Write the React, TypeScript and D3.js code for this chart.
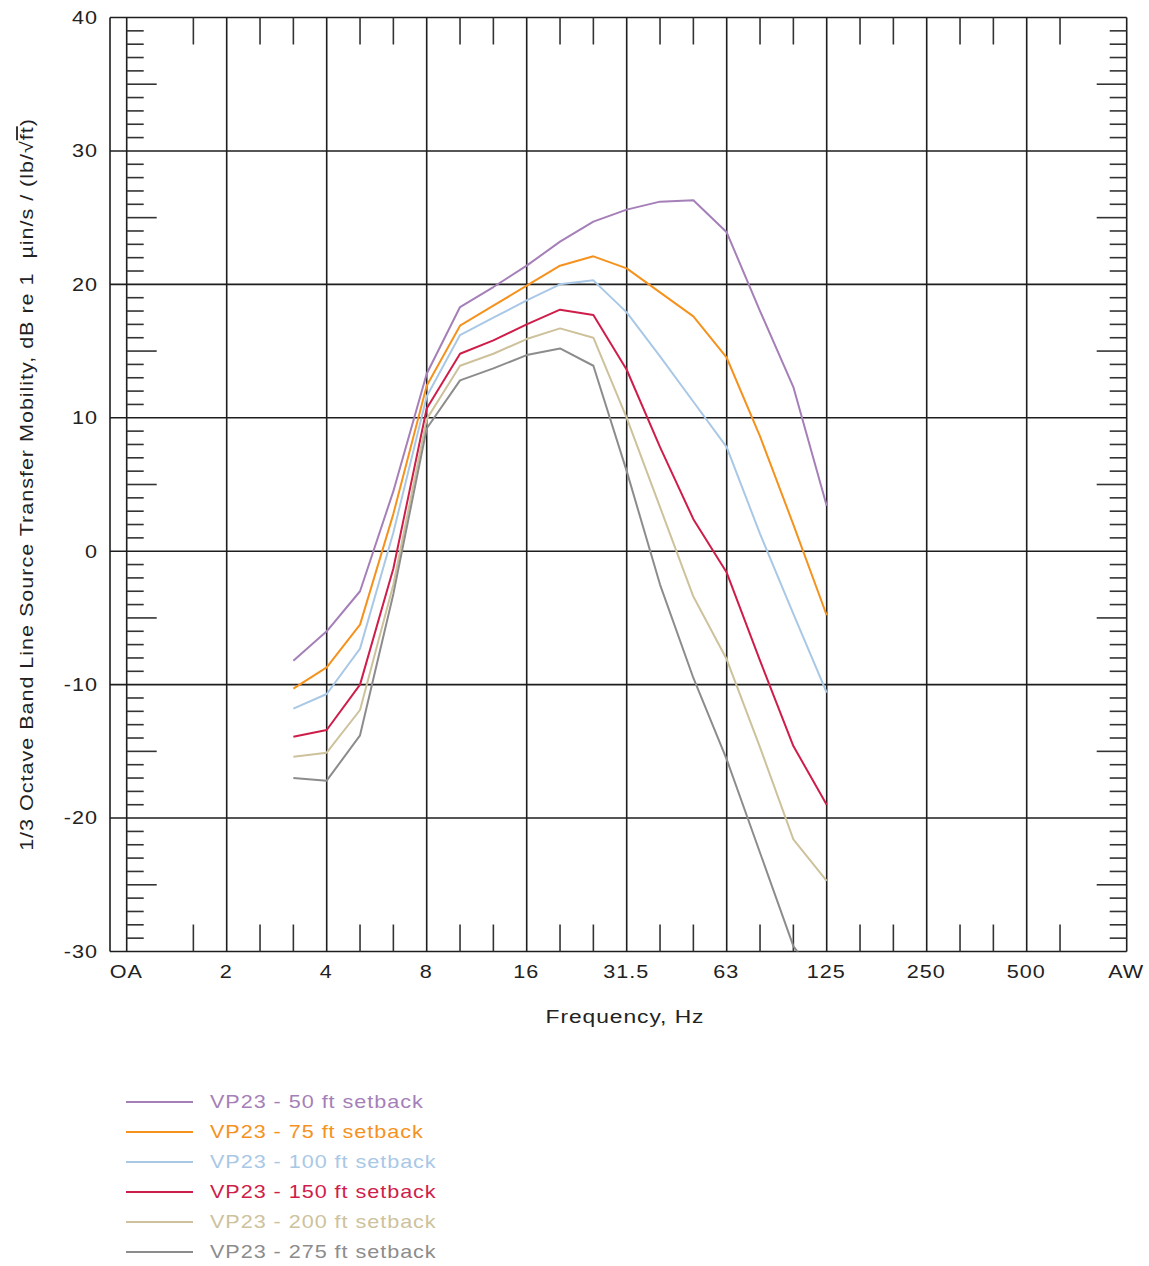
import React from "react";
import * as d3 from "d3";

// third-octave band positions along the x axis (OA .. AW)
const allBands = ["OA","1.25","1.6","2","2.5","3.15","4","5","6.3","8","10","12.5","16","20","25","31.5","40","50","63","80","100","125","160","200","250","315","400","500","630","800","AW"];
const xTickLabels = ["OA","2","4","8","16","31.5","63","125","250","500","AW"];
const hiddenMinor = ["1.25","800"];
const yTicks = [40,30,20,10,0,-10,-20,-30];

const dataBands = ["3.15","4","5","6.3","8","10","12.5","16","20","25","31.5","40","50","63","80","100","125"];

const vp50 = [-8.2,-6.0,-3.0,4.5,13.3,18.3,19.8,21.4,23.2,24.7,25.6,26.2,26.3,23.9,18.0,12.3,3.4];
const vp75 = [-10.3,-8.7,-5.5,2.8,12.4,16.9,18.4,19.9,21.4,22.1,21.2,19.4,17.6,14.5,8.6,2.0,-4.8];
const vp100 = [-11.8,-10.7,-7.3,1.4,11.6,16.2,17.5,18.8,20.0,20.3,17.9,14.6,11.2,7.8,1.3,-4.7,-10.6];
const vp150 = [-13.9,-13.4,-10.0,-1.3,10.7,14.8,15.8,17.0,18.1,17.7,13.6,7.8,2.4,-1.6,-8.2,-14.6,-19.0];
const vp200 = [-15.4,-15.1,-11.9,-2.5,9.9,13.9,14.8,15.9,16.7,16.0,10.0,3.3,-3.4,-8.1,-14.7,-21.6,-24.7];
const vp275 = [-17.0,-17.2,-13.8,-3.2,9.2,12.8,13.7,14.7,15.2,13.9,6.0,-2.5,-9.5,-15.6,-22.6,-29.6,-33.0];

const seriesNames = ["VP23 - 50 ft setback","VP23 - 75 ft setback","VP23 - 100 ft setback","VP23 - 150 ft setback","VP23 - 200 ft setback","VP23 - 275 ft setback"];
const seriesValues = [vp50, vp75, vp100, vp150, vp200, vp275];
const seriesColors = ["#a57fb8","#f5921e","#a9c8e6","#cf1d4a","#cdc29c","#8c8c8c"];

const FONT = "'Liberation Sans', Arial, Helvetica, sans-serif";
const LS = 0.8;
const SX = 1.2;

type TProps = { x: number; y: number; rot?: number; anchor?: string; size: number; fill: string; children: React.ReactNode };
function WideText({ x, y, rot = 0, anchor = "start", size, fill, children }: TProps) {
  return (
    <g transform={`translate(${x},${y}) rotate(${rot}) scale(${SX},1)`}>
      <text x={0} y={0} dy="0.35em" textAnchor={anchor} fontFamily={FONT} fontSize={size} letterSpacing={LS} fill={fill}>
        {children}
      </text>
    </g>
  );
}

export default function App() {
  const W = 1149, H = 1266;
  const frameLeft = 110;
  const x = d3.scalePoint<string>().domain(allBands).range([126.7, 1126.7]);
  const y = d3.scaleLinear().domain([-30, 40]).range([951.5, 17.5]);
  const top = y(40), bottom = y(-30), right = x("AW")!;
  const line = d3.line<number>().x((_, i) => x(dataBands[i])!).y((v) => y(v));

  const minorY = d3.range(-29, 40).filter((v) => v % 10 !== 0);
  const minorX = allBands.filter((b) => !xTickLabels.includes(b) && !hiddenMinor.includes(b));
  const gridColor = "#1e1e1e";

  return (
    <svg width={W} height={H} style={{ display: "block", position: "absolute", left: 0, top: 0 }}>
      <defs>
        <clipPath id="plotClip">
          <rect x={frameLeft} y={top} width={right - frameLeft} height={bottom - top} />
        </clipPath>
      </defs>
      {yTicks.map((v) => (
        <line key={"h" + v} x1={frameLeft} x2={right} y1={y(v)} y2={y(v)} stroke={gridColor} strokeWidth={1.6} />
      ))}
      {xTickLabels.map((b) => (
        <line key={"v" + b} x1={x(b)} x2={x(b)} y1={top} y2={bottom} stroke={gridColor} strokeWidth={1.6} />
      ))}
      <line x1={frameLeft} x2={frameLeft} y1={top} y2={bottom} stroke={gridColor} strokeWidth={1.6} />
      {minorY.map((v) => {
        const len = v % 5 === 0 ? 30 : 17;
        return (
          <g key={"ym" + v}>
            <line x1={x("OA")} x2={x("OA")! + len} y1={y(v)} y2={y(v)} stroke="#333" strokeWidth={1.6} />
            <line x1={right} x2={right - len} y1={y(v)} y2={y(v)} stroke="#333" strokeWidth={1.6} />
          </g>
        );
      })}
      {minorX.map((b) => (
        <g key={"xm" + b}>
          <line x1={x(b)} x2={x(b)} y1={top} y2={top + 27} stroke="#333" strokeWidth={1.6} />
          <line x1={x(b)} x2={x(b)} y1={bottom} y2={bottom - 27} stroke="#333" strokeWidth={1.6} />
        </g>
      ))}
      {yTicks.map((v) => (
        <WideText key={"yl" + v} x={97 + LS * SX} y={y(v)} anchor="end" size={18} fill="#222">
          {v}
        </WideText>
      ))}
      {xTickLabels.map((b) => (
        <WideText key={"xl" + b} x={x(b)! - 1 + (LS * SX) / 2} y={972} anchor="middle" size={18} fill="#222">
          {b}
        </WideText>
      ))}
      <WideText x={625} y={1016} anchor="middle" size={19} fill="#222">
        Frequency, Hz
      </WideText>
      <WideText x={27} y={(top + bottom) / 2} rot={-90} anchor="middle" size={18} fill="#222">
        1/3 Octave Band Line Source Transfer Mobility, dB re 1{"\u00a0\u00a0"}µin/s / (lb/√<tspan style={{ textDecoration: "overline" }}>ft</tspan>)
      </WideText>
      <g clipPath="url(#plotClip)">
        {seriesValues.map((vals, i) => (
          <path key={"s" + i} d={line(vals) || ""} fill="none" stroke={seriesColors[i]} strokeWidth={2} strokeLinejoin="round" />
        ))}
      </g>
      {seriesNames.map((name, i) => {
        const ly = 1102 + i * 30;
        return (
          <g key={"lg" + i}>
            <line x1={126} x2={193} y1={ly} y2={ly} stroke={seriesColors[i]} strokeWidth={2} />
            <WideText x={210} y={ly} size={18} fill={seriesColors[i]}>
              {name}
            </WideText>
          </g>
        );
      })}
    </svg>
  );
}
